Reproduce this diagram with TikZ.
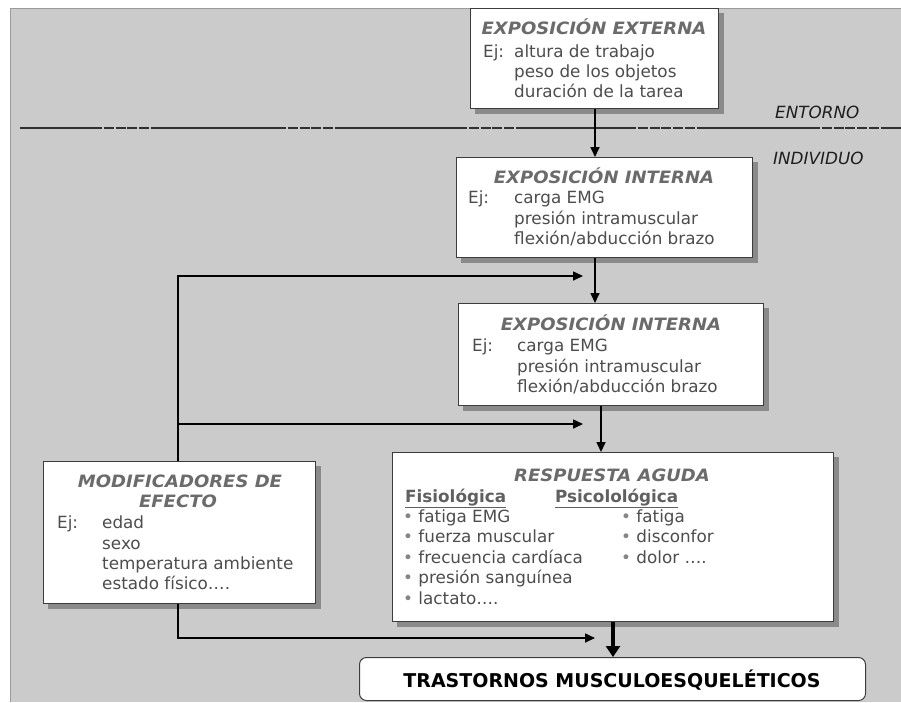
\documentclass[tikz,border=0pt]{standalone}
\usepackage{fontspec}
\setmainfont{DejaVu Sans}
\newfontfamily\titlefont{DejaVu Sans}[FakeStretch=1.06]
\usetikzlibrary{arrows.meta}
\definecolor{bggray}{HTML}{CBCBCB}
\definecolor{framegray}{HTML}{9A9A9A}
\definecolor{titlegray}{HTML}{6B6B6B}
\definecolor{textgray}{HTML}{4D4D4D}
\definecolor{bulletgray}{HTML}{858585}
\definecolor{shadowgray}{HTML}{8A8A8A}
\definecolor{boxborder}{HTML}{3C3C3C}
\definecolor{lblcolor}{HTML}{1E1E1E}
\definecolor{linegray}{HTML}{303030}
\pgfdeclarelayer{bg}
\pgfsetlayers{bg,main}
\newcommand{\bul}{{\color{bulletgray}•}\ }
\tikzset{
  box/.style={draw=boxborder, line width=1pt, fill=white, inner sep=0pt},
  boxshadow/.style={fill=shadowgray},
  ttl/.style={font=\titlefont\fontsize{17}{20}\selectfont\bfseries\itshape, text=titlegray, inner sep=0pt, anchor=base},
  txt/.style={font=\fontsize{16.8}{20}\selectfont, text=textgray, inner sep=0pt, anchor=base west},
  sub/.style={font=\fontsize{16.8}{20}\selectfont\bfseries, text=titlegray!90!black, inner sep=0pt, anchor=base west},
  lbl/.style={font=\fontsize{16.8}{20}\selectfont\itshape, text=lblcolor, inner sep=0pt, anchor=base west},
  conn/.style={draw=black, line width=1.6pt, -{Triangle[length=10pt,width=9pt]}},
  thickconn/.style={draw=black, line width=3.2pt, -{Triangle[length=11pt,width=14pt]}},
  divline/.style={draw=linegray, line width=1.5pt},
  divdash/.style={draw=linegray, line width=1.5pt, dash pattern=on 10pt off 1.8pt}
}
\begin{document}
\begin{tikzpicture}[x=1pt,y=-1pt]
\useasboundingbox (0,0) rectangle (901,702);
% background
\begin{pgfonlayer}{bg}
\fill[white] (0,0) rectangle (901,702);
\fill[bggray] (10,8) rectangle (901,702);
\draw[framegray, line width=1pt] (10.5,702) -- (10.5,8.5) -- (901,8.5);
\end{pgfonlayer}

% dividing line ENTORNO / INDIVIDUO
\draw[divline] (20,128) -- (92,128);
\draw[divdash] (92,128) -- (161,128);
\draw[divline] (161,128) -- (276,128);
\draw[divdash] (276,128) -- (345,128);
\draw[divline] (345,128) -- (457,128);
\draw[divdash] (457,128) -- (526,128);
\draw[divline] (526,128) -- (626,128);
\draw[divdash] (626,128) -- (698,128);
\draw[divline] (698,128) -- (810,128);
\draw[divdash] (810,128) -- (885,128);
\draw[divline] (885,128) -- (901,128);

\node[lbl] (entorno) at (775,118) {ENTORNO};
\node[lbl] (individuo) at (773,164) {INDIVIDUO};

% coordinates for connectors
\coordinate (ax1) at (595,0);
\coordinate (ax2) at (601,0);
\coordinate (ax3) at (613,0);
\coordinate (fbx) at (178,0);
\coordinate (j2) at (178,424);
\coordinate (t1) at (583,276);
\coordinate (t2) at (583,424);
\coordinate (t3) at (595,638);

% Box 1
\node[box, minimum width=248pt, minimum height=100pt, anchor=north west] (b1) at (470,8) {};
\node[ttl] (b1t) at (594,34) {EXPOSICIÓN EXTERNA};
\node[txt] (b1e) at (483,57) {Ej:};
\node[txt] (b1a) at (514,57) {altura de trabajo};
\node[txt] (b1b) at (514,77) {peso de los objetos};
\node[txt] (b1c) at (514,97) {duración de la tarea};

% Box 2
\node[box, minimum width=296pt, minimum height=100pt, anchor=north west] (b2) at (456,157) {};
\node[ttl] (b2t) at (604,183) {EXPOSICIÓN INTERNA};
\node[txt] (b2e) at (468,203) {Ej:};
\node[txt] (b2a) at (514,203) {carga EMG};
\node[txt] (b2b) at (514,224) {presión intramuscular};
\node[txt] (b2c) at (514,244) {flexión/abducción brazo};

% Box 3
\node[box, minimum width=305pt, minimum height=102pt, anchor=north west] (b3) at (458,303) {};
\node[ttl] (b3t) at (611,330) {EXPOSICIÓN INTERNA};
\node[txt] (b3e) at (472,351) {Ej:};
\node[txt] (b3a) at (517,351) {carga EMG};
\node[txt] (b3b) at (517,372) {presión intramuscular};
\node[txt] (b3c) at (517,392) {flexión/abducción brazo};

% Box 4
\node[box, minimum width=441pt, minimum height=169pt, anchor=north west] (b4) at (392,452) {};
\node[ttl] (b4t) at (612,481) {RESPUESTA AGUDA};
\node[sub] (b4f) at (405,502) {\underline{Fisiológica}};
\node[sub] (b4p) at (555,502) {\underline{Psicolológica}};
\node[txt] (b4a1) at (403,522) {\bul fatiga EMG};
\node[txt] (b4a2) at (403,542) {\bul fuerza muscular};
\node[txt] (b4a3) at (403,563) {\bul frecuencia cardíaca};
\node[txt] (b4a4) at (403,583) {\bul presión sanguínea};
\node[txt] (b4a5) at (403,604) {\bul lactato….};
\node[txt] (b4b1) at (621,522) {\bul fatiga};
\node[txt] (b4b2) at (621,542) {\bul disconfor};
\node[txt] (b4b3) at (621,563) {\bul dolor ….};

% Modificadores
\node[box, minimum width=272pt, minimum height=142pt, anchor=north west] (mod) at (43,461) {};
\node[ttl] (modt1) at (180,487) {MODIFICADORES DE};
\node[ttl] (modt2) at (178,507) {EFECTO};
\node[txt] (mode) at (57,528) {Ej:};
\node[txt] (moda) at (102,528) {edad};
\node[txt] (modb) at (102,549) {sexo};
\node[txt] (modc) at (102,569) {temperatura ambiente};
\node[txt] (modd) at (102,589) {estado físico….};

% Trastornos
\node[draw=boxborder, line width=1pt, fill=white, rounded corners=7pt, inner sep=0pt,
      minimum width=506pt, minimum height=43pt, anchor=north west] (tme) at (359,657) {};
\node[font=\fontsize{19}{22}\selectfont\bfseries, text=black, inner sep=0pt, anchor=base] (tmet) at (612,687) {TRASTORNOS MUSCULOESQUELÉTICOS};

% connectors
\draw[conn] (b1.south -| ax1) -- (b2.north -| ax1);
\draw[conn] (b2.south -| ax1) -- (b3.north -| ax1);
\draw[conn] (b3.south -| ax2) -- (b4.north -| ax2);
\draw[thickconn] (b4.south -| ax3) -- (tme.north -| ax3);

\begin{pgfonlayer}{bg}
% box shadows
\foreach \b in {b1,b2,b3,b4,mod}{
  \fill[boxshadow] ([shift={(5,5)}]\b.north west) rectangle ([shift={(5,5)}]\b.south east);
}
\draw[conn] (mod.north -| fbx) |- (t1);
\draw[conn] (j2) -- (t2);
\draw[conn] (mod.south -| fbx) |- (t3);
\end{pgfonlayer}
\end{tikzpicture}
\end{document}
